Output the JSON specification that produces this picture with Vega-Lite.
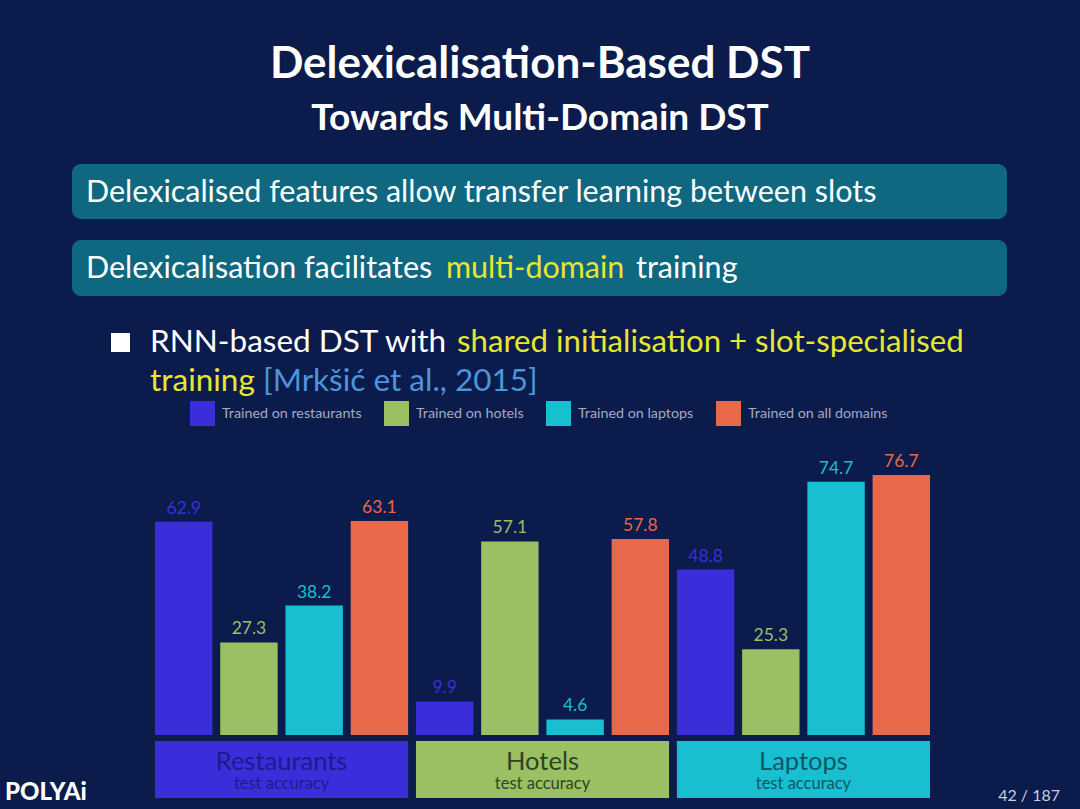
{
  "$schema": "https://vega.github.io/schema/vega-lite/v6.json",
  "width": 1080,
  "height": 809,
  "padding": 0,
  "autosize": {"type": "none"},
  "background": "#0b1b4b",
  "config": {"view": {"stroke": null}, "font": "Lato"},
  "datasets": {
    "acc": [
      {"domain": "Restaurants", "model": "Trained on restaurants", "acc": 62.9},
      {"domain": "Restaurants", "model": "Trained on hotels", "acc": 27.3},
      {"domain": "Restaurants", "model": "Trained on laptops", "acc": 38.2},
      {"domain": "Restaurants", "model": "Trained on all domains", "acc": 63.1},
      {"domain": "Hotels", "model": "Trained on restaurants", "acc": 9.9},
      {"domain": "Hotels", "model": "Trained on hotels", "acc": 57.1},
      {"domain": "Hotels", "model": "Trained on laptops", "acc": 4.6},
      {"domain": "Hotels", "model": "Trained on all domains", "acc": 57.8},
      {"domain": "Laptops", "model": "Trained on restaurants", "acc": 48.8},
      {"domain": "Laptops", "model": "Trained on hotels", "acc": 25.3},
      {"domain": "Laptops", "model": "Trained on laptops", "acc": 74.7},
      {"domain": "Laptops", "model": "Trained on all domains", "acc": 76.7}
    ],
    "domains": [
      {"domain": "Restaurants", "sub": "test accuracy"},
      {"domain": "Hotels", "sub": "test accuracy"},
      {"domain": "Laptops", "sub": "test accuracy"}
    ]
  },
  "resolve": {"scale": {"fill": "independent"}},
  "layer": [
    {
      "data": {"values": [{}]},
      "mark": {"type": "rect", "x": 72, "x2": 1007, "y": 164, "y2": 219, "cornerRadius": 9, "fill": "#0f6880"},
      "encoding": {}
    },
    {
      "data": {"values": [{}]},
      "mark": {"type": "rect", "x": 72, "x2": 1007, "y": 240, "y2": 296, "cornerRadius": 9, "fill": "#0f6880"},
      "encoding": {}
    },
    {
      "data": {"values": [{}]},
      "mark": {"type": "rect", "x": 111, "x2": 130, "y": 333, "y2": 352, "fill": "#ffffff"},
      "encoding": {}
    },
    {
      "data": {"values": [{}]},
      "layer": [
        {"mark": {"type": "text", "text": "Delexicalisation-Based DST", "x": 540, "y": 78, "align": "center", "baseline": "alphabetic", "fontSize": 44, "fontWeight": "bold", "fill": "#ffffff"}, "encoding": {}},
        {"mark": {"type": "text", "text": "Towards Multi-Domain DST", "x": 540, "y": 130, "align": "center", "baseline": "alphabetic", "fontSize": 37, "fontWeight": "bold", "fill": "#ffffff"}, "encoding": {}},
        {"mark": {"type": "text", "text": "Delexicalised features allow transfer learning between slots", "x": 86, "y": 202, "align": "left", "baseline": "alphabetic", "fontSize": 30.5, "fill": "#ffffff"}, "encoding": {}},
        {"mark": {"type": "text", "text": "Delexicalisation facilitates", "x": 86, "y": 278, "align": "left", "baseline": "alphabetic", "fontSize": 30.5, "fill": "#ffffff"}, "encoding": {}},
        {"mark": {"type": "text", "text": "multi-domain", "x": 446, "y": 278, "align": "left", "baseline": "alphabetic", "fontSize": 30.5, "fill": "#e6e633"}, "encoding": {}},
        {"mark": {"type": "text", "text": "training", "x": 636, "y": 278, "align": "left", "baseline": "alphabetic", "fontSize": 30.5, "fill": "#ffffff"}, "encoding": {}},
        {"mark": {"type": "text", "text": "RNN-based DST with", "x": 150, "y": 352, "align": "left", "baseline": "alphabetic", "fontSize": 31.5, "fill": "#ffffff"}, "encoding": {}},
        {"mark": {"type": "text", "text": "shared initialisation + slot-specialised", "x": 457, "y": 352, "align": "left", "baseline": "alphabetic", "fontSize": 31.2, "fill": "#e6e633"}, "encoding": {}},
        {"mark": {"type": "text", "text": "training", "x": 150, "y": 391, "align": "left", "baseline": "alphabetic", "fontSize": 31.5, "fill": "#e6e633"}, "encoding": {}},
        {"mark": {"type": "text", "text": "[Mrkšić et al., 2015]", "x": 263, "y": 391, "align": "left", "baseline": "alphabetic", "fontSize": 31.5, "fill": "#4d94dc"}, "encoding": {}},
        {"mark": {"type": "text", "text": "POLYAi", "x": 5, "y": 800, "align": "left", "baseline": "alphabetic", "fontSize": 24, "fontWeight": 900, "fill": "#ffffff"}, "encoding": {}},
        {"mark": {"type": "text", "text": "42 / 187", "x": 1060, "y": 801, "align": "right", "baseline": "alphabetic", "fontSize": 16, "fill": "#c8cde0"}, "encoding": {}}
      ]
    },
    {
      "data": {"name": "domains"},
      "mark": {"type": "rect", "y": 741, "y2": 798},
      "encoding": {
        "x": {"field": "domain", "type": "nominal", "sort": ["Restaurants", "Hotels", "Laptops"],
              "scale": {"domain": ["Restaurants", "Hotels", "Laptops"], "range": [155, 930], "paddingInner": 0.03, "paddingOuter": 0}, "axis": null},
        "fill": {"field": "domain", "type": "nominal",
                 "scale": {"domain": ["Restaurants", "Hotels", "Laptops"], "range": ["#3a2edb", "#9bbf63", "#17bfd1"]}, "legend": null}
      }
    },
    {
      "data": {"name": "domains"},
      "mark": {"type": "text", "y": 762, "baseline": "middle", "fontSize": 25.5},
      "encoding": {
        "x": {"field": "domain", "type": "nominal", "axis": null},
        "text": {"field": "domain"},
        "fill": {"field": "domain", "type": "nominal",
                 "scale": {"domain": ["Restaurants", "Hotels", "Laptops"], "range": ["#1d1a8c", "#2e4521", "#0c5766"]}, "legend": null}
      }
    },
    {
      "data": {"name": "domains"},
      "mark": {"type": "text", "y": 784, "baseline": "middle", "fontSize": 16.5},
      "encoding": {
        "x": {"field": "domain", "type": "nominal", "axis": null},
        "text": {"field": "sub"},
        "fill": {"field": "domain", "type": "nominal",
                 "scale": {"domain": ["Restaurants", "Hotels", "Laptops"], "range": ["#1d1a8c", "#2e4521", "#0c5766"]}, "legend": null}
      }
    },
    {
      "data": {"name": "acc"},
      "mark": {"type": "bar"},
      "encoding": {
        "x": {"field": "domain", "type": "nominal", "axis": null},
        "xOffset": {"field": "model", "type": "nominal",
                    "scale": {"domain": ["Trained on restaurants", "Trained on hotels", "Trained on laptops", "Trained on all domains"], "paddingInner": 0.12, "paddingOuter": 0}},
        "y": {"field": "acc", "type": "quantitative", "scale": {"domain": [0, 100], "range": [735, 396], "nice": false}, "axis": null},
        "color": {"field": "model", "type": "nominal",
                  "scale": {"domain": ["Trained on restaurants", "Trained on hotels", "Trained on laptops", "Trained on all domains"], "range": ["#3a2edb", "#9bbf63", "#17bfd1", "#e8694a"]},
                  "legend": {"title": null, "orient": "none", "legendX": 190, "legendY": 401, "direction": "horizontal", "columns": 4,
                             "symbolType": "square", "symbolSize": 625, "symbolStrokeWidth": 0, "symbolOpacity": 1,
                             "labelFont": "Lato", "labelFontSize": 14.3, "labelColor": "#a3aac2", "labelOffset": 7,
                             "columnPadding": 22, "padding": 0, "labelLimit": 300}}
      }
    },
    {
      "data": {"name": "acc"},
      "mark": {"type": "text", "baseline": "bottom", "dy": -4, "fontSize": 17.5},
      "encoding": {
        "x": {"field": "domain", "type": "nominal", "axis": null},
        "xOffset": {"field": "model", "type": "nominal"},
        "y": {"field": "acc", "type": "quantitative"},
        "text": {"field": "acc", "type": "quantitative", "format": ".1f"},
        "color": {"field": "model", "type": "nominal"}
      }
    }
  ]
}
